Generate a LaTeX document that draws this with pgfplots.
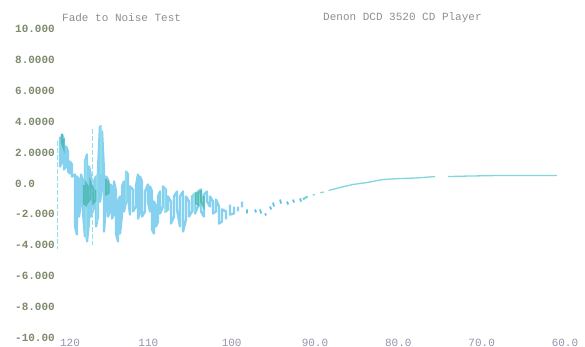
\documentclass[border=0pt]{standalone}
\usepackage{fontspec}
\setmonofont{Liberation Mono}
\usepackage{pgfplots}
\pgfplotsset{compat=1.18}

\definecolor{ylab}{HTML}{7E8A6C}
\definecolor{xlab}{HTML}{9A90AC}
\definecolor{ttl}{HTML}{8E8E8E}
\definecolor{sky}{HTML}{5CC2EA}
\definecolor{cyanl}{HTML}{92E0EA}
\definecolor{tealc}{HTML}{3FB3A6}
\definecolor{trace}{HTML}{80D6DC}

\newcommand{\monofnt}{\ttfamily\fontsize{11bp}{12bp}\selectfont}

\begin{document}
\begin{tikzpicture}
\useasboundingbox (0,0) rectangle (585bp,347bp);
\begin{axis}[
  at={(57bp,9bp)}, anchor=south west,
  scale only axis, width=500bp, height=309bp,
  xmin=60, xmax=120, ymin=-10, ymax=10,
  x dir=reverse,
  axis line style={draw=none},
  tick style={draw=none},
  clip=false,
  xtick={60,70,80,90,100,110,120},
  xticklabels={60.0,70.0,80.0,90.0,100,110,\hspace{10bp}120},
  ytick={-10,-8,-6,-4,-2,0,2,4,6,8,10},
  yticklabels={-10.00,-8.000,-6.000,-4.000,-2.000,0.0,2.0000,4.0000,6.0000,8.0000,10.000},
  xticklabel style={font=\monofnt, text=xlab, anchor=base, inner sep=0pt, xshift=8bp, yshift=-8bp},
  yticklabel style={font=\monofnt\bfseries, text=ylab, anchor=base west, inner sep=0pt, xshift=-42bp, yshift=-3.6bp},
  empty line=jump,
]
% noisy start of the fade: dense trace
\addplot[sky, line width=2.4bp, opacity=0.75, line join=round] table {
119.64 3.04
119.64 1.10
119.40 1.42
119.40 3.17
119.16 2.85
119.16 0.91
118.92 1.10
118.92 2.39
118.68 2.07
118.68 0.78
118.44 0.65
118.44 1.42
118.20 1.23
118.20 0.45
117.84 0.58
117.84 -2.78
117.60 -3.30
117.60 0.45
117.36 0.26
117.36 -2.14
117.12 -1.17
117.12 0.58
116.88 0.13
116.88 -1.81
116.64 -3.43
116.64 1.42
116.40 1.88
116.40 -3.75
116.16 -2.46
116.16 1.10
115.92 0.45
115.92 -2.14
115.56 -1.49
115.56 0.13
115.32 0.45
115.32 -2.78
115.08 -2.14
115.08 0.78
114.84 3.69
114.84 -1.17
114.60 -0.19
114.60 3.37
114.36 0.78
114.36 -3.11
114.12 -1.17
114.12 0.45
113.88 0.26
113.88 -2.14
113.64 -1.81
113.64 -0.06
113.40 -0.19
113.40 -2.27
113.16 -1.94
113.16 0.13
112.92 -0.52
112.92 -3.24
112.68 -3.75
112.68 -1.17
112.44 -0.84
112.44 -3.24
112.20 -2.01
112.20 -0.19
111.96 0.13
111.96 -1.81
111.72 -1.17
111.72 0.78
111.48 0.58
111.48 -0.84
111.24 -2.01
111.24 -0.19
110.88 -0.39
110.88 -1.81
110.52 -1.49
110.52 -0.19
110.28 0.58
110.28 -2.27
110.04 -1.81
110.04 0.45
109.80 0.13
109.80 -2.14
109.44 -1.81
109.44 -0.52
109.08 -0.06
109.08 -1.17
108.84 -1.81
108.84 -0.19
108.60 -0.52
108.60 -2.98
108.36 -3.24
108.36 -1.17
108.12 -1.49
108.12 -2.78
107.88 -2.46
107.88 -0.84
107.64 -0.52
107.64 -1.94
107.28 -1.49
107.28 -0.19
106.92 -0.39
106.92 -1.81
106.68 -1.68
106.68 -0.84
106.32 -1.17
106.32 -2.59
105.96 -2.14
105.96 -0.84
105.60 -0.52
105.60 -1.68
105.24 -2.78
105.24 -0.84
104.88 -0.52
104.88 -3.11
104.52 -2.33
104.52 -0.84
104.16 -1.17
104.16 -2.14
103.80 -1.81
103.80 -0.84
103.44 -0.65
103.44 -1.94
103.08 -1.49
103.08 -0.52
102.72 -0.39
102.72 -1.81
102.36 -2.14
102.36 -0.71
102.00 -0.52
102.00 -1.17
101.64 -1.49
101.64 -0.84
101.28 -1.17
101.28 -1.94
100.92 -1.81
100.92 -1.04
100.56 -1.49
100.56 -2.59
100.20 -2.46
100.20 -1.68
99.72 -1.81
99.72 -2.33

99.24 -1.36
99.24 -2.01
98.76 -1.94
98.76 -1.49

98.28 -1.49
98.28 -1.81

97.80 -1.17
97.80 -1.55
};
% lighter overlay strokes
\addplot[cyanl, line width=1.8bp, opacity=0.8] table {
116.52 1.50
116.52 -3.60

115.20 0.60
115.20 -2.50

114.70 3.80
114.70 0.60

111.72 0.78
111.72 -1.20

107.00 -0.30
107.00 -1.90

103.60 -0.60
103.60 -1.80
};
% thin dashed spikes
\addplot[cyanl, line width=0.9bp, dash pattern=on 5bp off 2bp] table {
120.00 2.72
120.00 -4.21

115.80 3.50
115.80 -3.95
};
% teal patches
\addplot[tealc, line width=2bp, opacity=0.7] table {
119.40 3.20
119.40 2.60
119.20 2.30
119.20 2.90

116.76 -0.10
116.76 -1.30
116.52 -1.40
116.52 0.00
116.28 -0.20
116.28 -1.20
116.00 -1.00
116.00 0.10
115.70 -0.30
115.70 -1.30
115.40 -1.10
115.40 -0.40

114.10 0.30
114.10 -0.70
113.80 -0.60
113.80 0.20

103.30 -0.55
103.30 -1.30
103.00 -1.40
103.00 -0.60
102.70 -0.50
102.70 -1.20
102.40 -1.50
102.40 -0.80

90.50 -1.02
90.00 -0.86
};
% scattered fragments as the noise settles
\addplot[sky, line width=1.8bp] table {
97.20 -1.68
97.20 -1.94

96.24 -1.68
96.10 -1.87

95.64 -1.68
95.50 -1.94

95.04 -1.94
94.90 -2.07

94.44 -1.49
94.30 -1.68

94.08 -1.23
93.95 -1.49

93.24 -1.04
93.10 -1.30

92.40 -1.17
92.25 -1.36

91.68 -1.04
91.55 -1.23

90.84 -0.97
90.70 -1.17
};
% settled trace
\addplot[trace, line width=1.3bp] table {
90.48 -1.04
89.88 -0.84

89.30 -0.75
89.04 -0.71

88.40 -0.60
88.00 -0.55

87.40 -0.45
86.04 -0.26
84.48 -0.06
82.80 0.06
80.88 0.26
78.84 0.32
76.80 0.36
74.64 0.45

73.08 0.45
70.80 0.48
66.84 0.52
63.24 0.52
60.00 0.52
};
\end{axis}
\node[anchor=base west, inner sep=0pt, text=ttl, font=\monofnt] at (62bp,325.5bp) {Fade to Noise Test};
\node[anchor=base west, inner sep=0pt, text=ttl, font=\monofnt] at (323bp,326.5bp) {Denon DCD 3520 CD Player};
\end{tikzpicture}
\end{document}
